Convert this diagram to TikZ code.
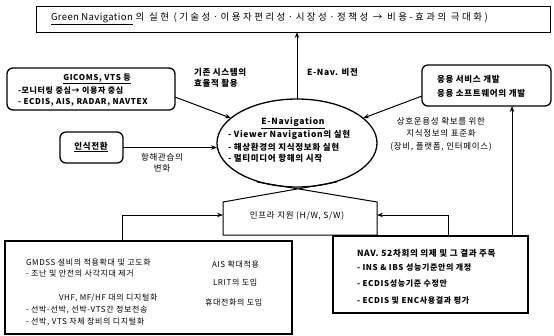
\documentclass[tikz,border=0pt]{standalone}
\usepackage{fontspec}
\setmainfont{Noto Sans CJK KR}[LetterSpace=8]
\usetikzlibrary{arrows.meta,shapes.geometric}
\begin{document}
\begin{tikzpicture}[x=1pt,y=-1pt,
  every node/.style={inner sep=0pt, outer sep=0pt},
  txt/.style={font=\fontsize{8.5}{10.5}\selectfont},
  btxt/.style={font=\fontsize{8.5}{10.5}\selectfont\bfseries},
  stxt/.style={font=\fontsize{8}{10}\selectfont},
  sbtxt/.style={font=\fontsize{8}{10}\selectfont\bfseries},
  rbox/.style={draw, rounded corners=6pt, line width=1.3pt},
  sbox/.style={draw, line width=1pt},
  arr/.style={-{Stealth[length=6pt,width=4.5pt]}, line width=1pt},
  ln/.style={line width=1pt}]
\useasboundingbox (0,0) rectangle (554,335);

% title box
\node[sbox, minimum width=514, minimum height=26, anchor=north west] (top) at (36,6) {};
\node[anchor=west, font=\fontsize{9.5}{11}\selectfont] (toptxt) at (51,19) {{\addfontfeature{LetterSpace=4}\underline{Green Navigation}} {\addfontfeature{LetterSpace=26}의 실현 (기술성·이용자편리성·시장성·정책성 → 비용-효과의 극대화)}};

% ellipse
\node[draw, ellipse, line width=1.3pt, minimum width=160, minimum height=88] (en) at (297,143) {};
\node[btxt] (e0) at (293,123) {\underline{E-Navigation}};
\node[btxt, anchor=west] (e1) at (228,135) {- Viewer Navigation의 실현};
\node[btxt, anchor=west] (e2) at (228,147) {- 해상환경의 지식정보화 실현};
\node[btxt, anchor=west] (e3) at (228,158) {- 멀티미디어 항해의 시작};

% GICOMS box
\node[rbox, minimum width=168, minimum height=42, anchor=north west] (gic) at (7,68) {};
\node[sbtxt] (g0) at (97,79) {\underline{GICOMS, VTS 등}};
\node[sbtxt, anchor=west] (g1) at (18,91) {-모니터링 중심→ 이용자 중심};
\node[sbtxt, anchor=west] (g2) at (18,102.5) {- ECDIS, AIS, RADAR, NAVTEX};
\node[btxt, anchor=west, align=left] (lblA) at (194,78) {기존 시스템의\\효율적 활용};

% application box
\node[rbox, minimum width=129, minimum height=41, anchor=north west] (app) at (422,65) {};
\node[btxt, anchor=west] (a1) at (437,79) {응용 서비스 개발};
\node[btxt, anchor=west] (a2) at (437,93) {응용 소프트웨어의 개발};

% recognition box
\node[rbox, minimum width=63, minimum height=31, anchor=north west] (rec) at (60,132) {};
\node[btxt] (r0) at (91,147) {\underline{인식전환}};
\node[txt, align=center] (lblB) at (162,163) {항해관습의\\변화};

% labels
\node[btxt, anchor=west] (lblC) at (307,72) {E-Nav. 비전};
\node[txt, align=center, font=\fontsize{8.5}{12.5}\selectfont] (lblD) at (441,134) {상호운용성 확보를 위한\\지식정보의 표준화\\(장비, 플랫폼, 인터페이스)};

% infra shape
\node[minimum width=154, minimum height=33, anchor=north west] (inf) at (223,202) {};
\node[txt] (i0) at (297,216) {인프라 지원 (H/W, S/W)};
\draw[ln] (337,182) -- (inf.north west) -- (inf.south west) -- (inf.south east) -- (inf.north east) -- (257,182);

% bottom-left box
\node[draw, line width=1.3pt, minimum width=287, minimum height=93, anchor=north west] (gm) at (5,241) {};
\node[stxt, anchor=west] (m1) at (26,262) {GMDSS 설비의 적용확대 및 고도화};
\node[stxt, anchor=west] (m2) at (26,274) {- 조난 및 안전의 사각지대 제거};
\node[stxt, anchor=west] (m3) at (59,298) {VHF, MF/HF 대의 디지털화};
\node[stxt, anchor=west] (m4) at (26,310) {- 선박-선박, 선박-VTS간 정보전송};
\node[stxt, anchor=west] (m5) at (26,322) {- 선박, VTS 자체 장비의 디지털화};
\node[stxt, anchor=west] (m6) at (212,264) {AIS 확대적용};
\node[stxt, anchor=west] (m7) at (213,283) {LRIT의 도입};
\node[stxt, anchor=west] (m8) at (205,302) {휴대전화의 도입};

% NAV box
\node[draw, line width=2pt, minimum width=195, minimum height=77, anchor=north west] (nav) at (333,236) {};
\node[btxt, anchor=west] (n1) at (357,253) {NAV. 52차회의 의제 및 그 결과 주목};
\node[sbtxt, anchor=west] (n2) at (357,268) {- INS \& IBS 성능기준안의 개정};
\node[sbtxt, anchor=west] (n3) at (357,284) {- ECDIS성능기준 수정안};
\node[sbtxt, anchor=west] (n4) at (357,300) {- ECDIS 및 ENC사용결과 평가};

% connectors
\draw[arr] (en.north) -- (en.north |- top.south);
\draw[arr] (gic.east |- 0,97) -- (en);
\draw[arr] (app.west |- 0,96) -- (en);
\draw[arr] (rec.east) -- (rec.east -| en.west);
\draw[arr] (nav.north -| 512,0) -- (app.south -| 512,0);
\draw[arr] (gm.north -| 122,0) |- (inf.west |- 0,215);
\draw[arr] (nav.north -| 448,0) |- (inf.east |- 0,215);
\end{tikzpicture}
\end{document}
